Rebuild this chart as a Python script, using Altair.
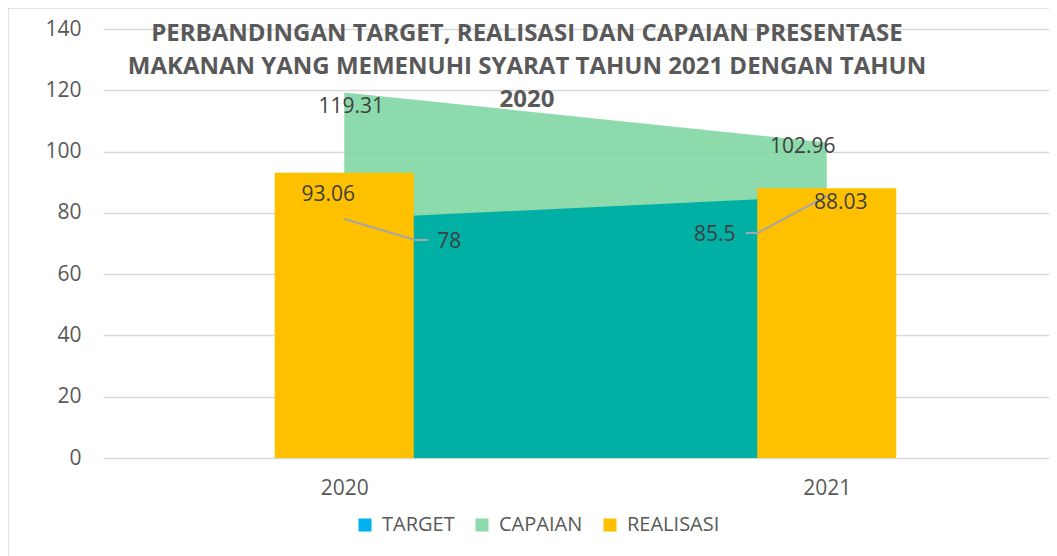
import altair as alt
import pandas as pd

# ---- data ----
years = [2020, 2021]
target = [78, 85.5]
capaian = [119.31, 102.96]
realisasi = [93.06, 88.03]
series_names = ["TARGET", "CAPAIAN", "REALISASI"]
y_ticks = [0, 20, 40, 60, 80, 100, 120, 140]
title_lines = [
    "PERBANDINGAN TARGET, REALISASI DAN CAPAIAN PRESENTASE",
    "MAKANAN YANG MEMENUHI SYARAT TAHUN 2021 DENGAN TAHUN",
    "2020",
]

df = pd.DataFrame({"Tahun": years, "TARGET": target, "CAPAIAN": capaian, "REALISASI": realisasi})

FONT = "Open Sans"
GREY = "#595959"
LABEL = "#404040"

x_enc = alt.X(
    "Tahun:Q",
    scale=alt.Scale(domain=[2019.5, 2021.4606], nice=False, zero=False, padding=0),
    axis=alt.Axis(values=years, format="d", title=None, grid=False, ticks=False,
                  domain=False, labelFontSize=21, labelColor=GREY, labelFont=FONT,
                  labelPadding=19),
)
y_scale = alt.Scale(domain=[0, 140], nice=False, padding=0)
y_axis = alt.Axis(values=y_ticks, title=None, grid=True, gridColor="#D9D9D9", gridWidth=1.5,
                  ticks=False, domain=False, labelFontSize=21, labelColor=GREY,
                  labelFont=FONT, labelPadding=22)

base = alt.Chart(df)

# outer chart frame (decorative)
frame = alt.Chart(pd.DataFrame({"k": [0]})).mark_rect(
    fill=None, stroke="#D9D9D9", strokeWidth=1.5
).encode(x=alt.value(-95), x2=alt.value(960), y=alt.value(-21), y2=alt.value(540))

area_cap = base.mark_area(color="#79D59F", opacity=0.85).encode(
    x=x_enc, y=alt.Y("CAPAIAN:Q", scale=y_scale, axis=y_axis)
)
area_tgt = base.mark_area(color="#00B0A5", opacity=1).encode(
    x=alt.X("Tahun:Q"), y=alt.Y("TARGET:Q")
)
bars = base.transform_calculate(seri="'REALISASI'").mark_bar(width=139).encode(
    x=alt.X("Tahun:Q"),
    y=alt.Y("REALISASI:Q"),
    color=alt.Color(
        "seri:N",
        scale=alt.Scale(domain=series_names, range=["#00B0F0", "#8DDBAD", "#FFC000"]),
        legend=alt.Legend(
            title=None, orient="none", direction="horizontal", legendX=252, legendY=486,
            symbolType="square", symbolSize=170, symbolStrokeWidth=0, labelFontSize=20,
            labelFont=FONT, labelColor=GREY, labelOffset=7, columnPadding=17,
        ),
    ),
)

# data labels: (field, index, dx, dy)
label_specs = [
    ("CAPAIAN", 0, 7, 15),
    ("CAPAIAN", 1, -24, 4),
    ("REALISASI", 0, -16, 22),
    ("REALISASI", 1, 14, 15),
    ("TARGET", 0, 105, 23),
    ("TARGET", 1, -112, 39),
]
text_layers = []
for field, idx, dx, dy in label_specs:
    t = alt.Chart(df.iloc[[idx]]).mark_text(
        font=FONT, fontSize=21, color=LABEL, dx=dx, dy=dy, align="center", baseline="middle"
    ).encode(x=alt.X("Tahun:Q"), y=alt.Y(f"{field}:Q"), text=alt.Text(f"{field}:Q"))
    text_layers.append(t)

# leader lines for TARGET labels: (index, elbow dx, elbow dy, end dx)
leader_specs = [(0, 71, 21, 84), (1, -69, 37, -81)]
leader_layers = []
for idx, ex, ey, endx in leader_specs:
    d = df.iloc[[idx]]
    seg1 = alt.Chart(d).mark_rule(color="#A6A6A6", strokeWidth=2, x2Offset=ex, y2Offset=ey).encode(
        x="Tahun:Q", y="TARGET:Q", x2="Tahun:Q", y2="TARGET:Q")
    seg2 = alt.Chart(d).mark_rule(color="#A6A6A6", strokeWidth=2, xOffset=ex, yOffset=ey,
                                  x2Offset=endx, y2Offset=ey).encode(
        x="Tahun:Q", y="TARGET:Q", x2="Tahun:Q", y2="TARGET:Q")
    leader_layers += [seg1, seg2]

chart = alt.layer(area_cap, area_tgt, bars, *leader_layers, *text_layers, frame).properties(
    width=946,
    height=429,
    autosize=alt.AutoSizeParams(type="none"),
    padding={"left": 95, "top": 21, "right": 0, "bottom": 98},
    background="white",
    title=alt.TitleParams(
        text=title_lines, font=FONT, fontSize=24, fontWeight="bold", color=GREY,
        anchor="middle", frame="group", dx=-49, baseline="top", offset=0, dy=105,
        lineHeight=33,
    ),
).configure_view(stroke=None)

chart.save("out.html", embed_options={"renderer": "svg", "actions": False})
